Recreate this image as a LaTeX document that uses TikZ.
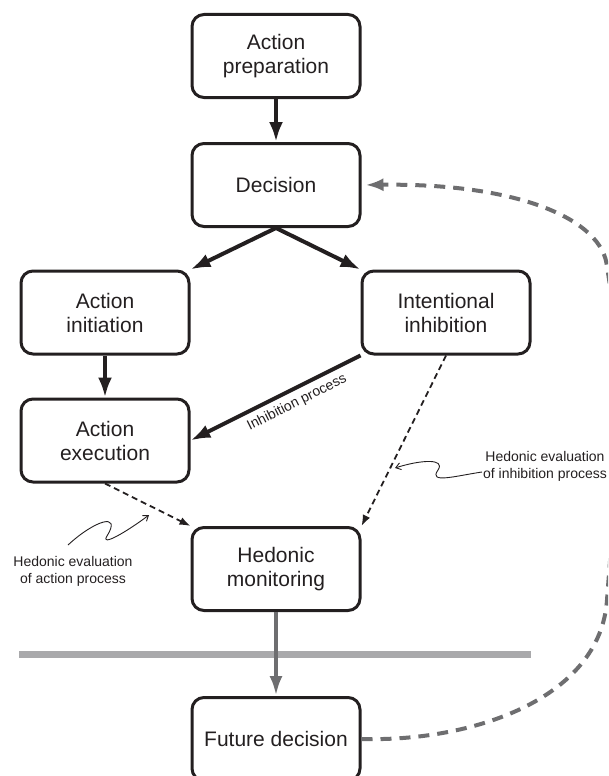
\documentclass[tikz,border=0pt]{standalone}
\usepackage{fontspec}
\setmainfont{Liberation Sans}
\usepackage{tikz}
\usetikzlibrary{positioning}
\usetikzlibrary{arrows.meta}
\usetikzlibrary{calc}
\definecolor{inkblack}{HTML}{231F20}
\definecolor{linegray}{HTML}{6E6E70}
\definecolor{bargray}{HTML}{A9A9AB}
\tikzstyle{stage}=[draw=inkblack,line width=3pt,rounded corners=12pt,minimum width=168pt,minimum height=83pt,inner sep=0pt,align=center,text=inkblack,font=\fontsize{21}{24}\selectfont]
\tikzstyle{edge} = [draw,inkblack,line width=4pt,-{Latex[length=20pt,width=14pt]}]
\tikzstyle{grayedge} = [draw,linegray,line width=4pt,-{Latex[length=20pt,width=13pt]}]
\tikzstyle{evaledge} = [draw,inkblack,line width=1.8pt,dash pattern=on 6pt off 4pt,-{Latex[length=11pt,width=8pt]}]
\tikzstyle{loopedge} = [draw,linegray,line width=4pt,dash pattern=on 11pt off 8pt,-{Latex[length=18pt,width=13pt]}]
\tikzstyle{pointer} = [draw,inkblack,line width=0.9pt,-{Straight Barb[length=5pt,width=7pt]}]
\tikzstyle{note} = [align=center,text=inkblack,font=\fontsize{14}{17}\selectfont]

\begin{document}
\begin{tikzpicture}[x=1pt,y=-1pt]
    \useasboundingbox (0,0) rectangle (608,776);
    \clip (0,0) rectangle (608,776);

    % separator between this trial and the next
    \draw[bargray,line width=7pt] (19,654) -- (531,654);

    \foreach \pos/\name/\txt in {{(276,56)/prep/{Action\\preparation}}, {(276,185)/dec/{Decision}},
            {(105,312.5)/init/{Action\\initiation}}, {(446,312.5)/inhib/{Intentional\\inhibition}},
            {(105,440.5)/exec/{Action\\execution}}, {(276,569)/hed/{Hedonic\\monitoring}},
            {(276,739)/fut/{Future decision}}}
        \node[stage] (\name) at \pos {\txt};

    \foreach \source/ \dest in {prep.south/dec.north, dec.south/init.north east,
            dec.south/inhib.north west, init.south/exec.north}
        \path[edge] (\source) -- (\dest);

    \path[edge] (inhib.south west) -- node[note, sloped, below=2pt, pos=0.41] {Inhibition process} (exec.east);

    \foreach \source/ \dest in {exec.south/hed.north west, inhib.south/hed.north east}
        \path[evaledge] (\source) -- (\dest);

    \path[grayedge] (hed.south) -- (fut.north);

    % feedback to the next decision
    \path[loopedge, shorten >=4pt] (fut.east) .. controls (470,742) and (600,700) .. (607,600)
        .. controls (615,490) and (628,390) .. (607,267)
        .. controls (603,220) and (520,183) .. (dec.east);

    % annotations
    \coordinate (actTail) at (68,545);
    \coordinate (actTip) at (149,515);
    \coordinate (inhTail) at (482,472);
    \coordinate (inhTip) at (395,468);
    \path[pointer] (actTail) .. controls (95,520) and (122,512) .. (107,536)
        .. controls (100,547) and (125,533) .. (actTip);
    \path[pointer] (inhTail) .. controls (455,476) and (428,484) .. (438,470)
        .. controls (446,458) and (420,460) .. (inhTip);

    \node[note] (actNote) at (73,571) {Hedonic evaluation\\of action process};
    \node[note] (inhNote) at (545,466) {Hedonic evaluation\\of inhibition process};

\end{tikzpicture}
\end{document}
